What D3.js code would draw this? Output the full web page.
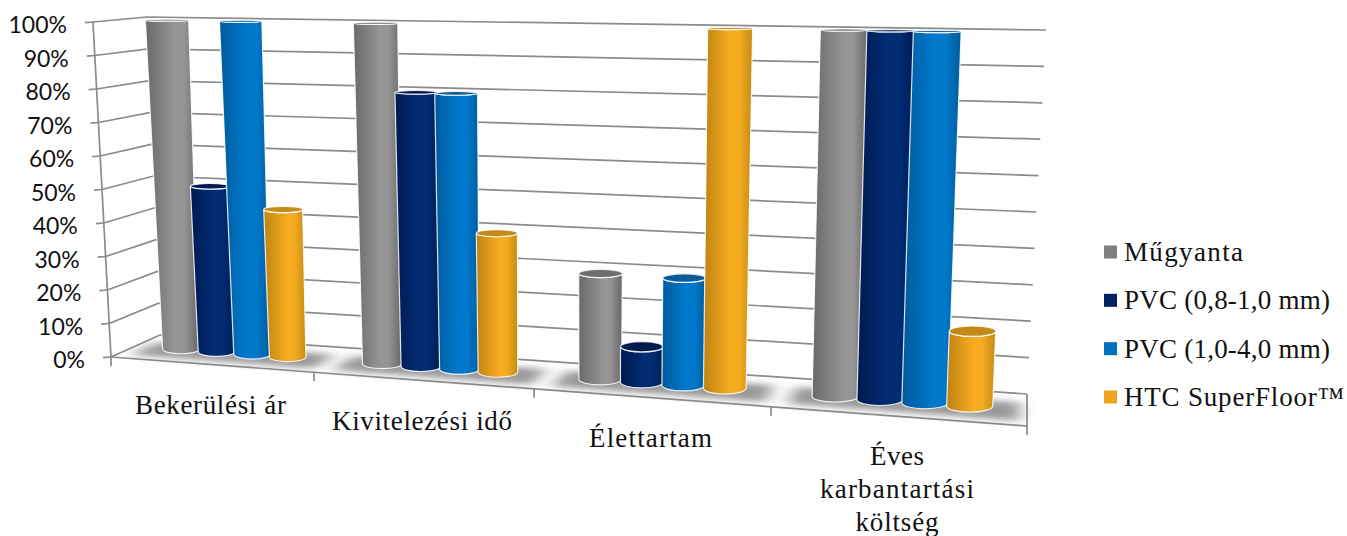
<!DOCTYPE html>
<html>
<head>
<meta charset="utf-8">
<title>Padlóburkolatok összehasonlítása</title>
<script src="https://d3js.org/d3.v7.min.js"></script>
<style>
  html, body { margin: 0; padding: 0; background: #fff; overflow: hidden; }
  svg { display: block; }
  .tick-label { font-family: Lato, "Open Sans", sans-serif; font-size: 23px; fill: #111; }
  .serif { font-family: "Liberation Serif", serif; font-size: 27px; fill: #111; }
</style>
</head>
<body>
<div id="chart"></div>
<script>
const categories = ["Bekerülési ár", "Kivitelezési idő", "Élettartam", "Éves karbantartási költség"];
const seriesNames = ["Műgyanta", "PVC (0,8-1,0 mm)", "PVC (1,0-4,0 mm)", "HTC SuperFloor™"];
const muGyanta = [1.0, 1.0, 0.3, 1.0];
const pvcThin = [0.5, 0.8, 0.1, 1.0];
const pvcThick = [1.0, 0.8, 0.3, 1.0];
const superFloor = [0.44, 0.4, 1.0, 0.2];
const seriesValues = [muGyanta, pvcThin, pvcThick, superFloor];

const W = 1347, H = 536;
const gridColor = "#8b8b8b";

// one colour set per series: edge, highlight, other edge, cap
const shades = [
  ["#696969", "#959595", "#666666", "#6e6e6e"],
  ["#001a52", "#002c74", "#001c56", "#001a50"],
  ["#005a9c", "#0079cc", "#005c9c", "#0a5c98"],
  ["#bf8312", "#f6ac20", "#c48a14", "#c48a18"]
];
const legendColors = ["#7f7f7f", "#002060", "#0070c0", "#eca420"];

// the chart box as it shows on the picture
const frontBottom = [[111, 357], [1027, 426]];
const backBottom = [[160, 335], [1027, 394]];
const frontTop = [[93, 22], [1040, 36]];
const backTop = [[147, 17], [1046, 30]];

// perspective squeezes the left categories, so the x scale is piecewise
const xFront = d3.scaleLinear().domain([0, 1, 2, 3, 4]).range([111, 314, 534, 771, 1027]);
const frac = d3.scaleLinear().domain([111, 1027]).range([0, 1]);
const y = d3.scaleLinear().domain([0, 1]).range([0, 1]);

function onEdge(edge, t) {
  return [edge[0][0] + (edge[1][0] - edge[0][0]) * t, edge[0][1] + (edge[1][1] - edge[0][1]) * t];
}

// u = category position, v = value, d = depth (0 front, 1 back)
function project(u, v, d) {
  const t = frac(xFront(u));
  const bottom = d3.interpolate(onEdge(frontBottom, t), onEdge(backBottom, t))(d);
  const top = d3.interpolate(onEdge(frontTop, t), onEdge(backTop, t))(d);
  return d3.interpolate(bottom, top)(y(v));
}

const svg = d3.select("#chart").append("svg").attr("width", W).attr("height", H);
const defs = svg.append("defs");

shades.forEach((s, i) => {
  const g = defs.append("linearGradient").attr("id", "cyl" + i);
  [[0, s[0]], [0.55, s[1]], [0.72, s[1]], [1, s[2]]].forEach(st => {
    g.append("stop").attr("offset", st[0]).attr("stop-color", st[1]);
  });
});
defs.append("filter").attr("id", "soft").attr("x", "-20%").attr("y", "-80%").attr("width", "140%").attr("height", "260%")
  .append("feGaussianBlur").attr("stdDeviation", "8 3");

const line = d3.line();
const pct = d3.format(".0%");

// walls
const ticks = y.ticks(10);
const grid = svg.append("g").attr("fill", "none").attr("stroke", gridColor).attr("stroke-width", 1.7);
ticks.forEach(v => {
  grid.append("path").attr("d", line([project(0, v, 0), project(0, v, 1), project(4, v, 1)]));
});

// floor edges
grid.append("path").attr("d", line([project(0, 0, 0), project(4, 0, 0), project(4, 0, 1)]));
grid.append("path").attr("d", line([project(0, 0, 0), project(0, 1, 0)]));

// value ticks
ticks.forEach(v => {
  const p = project(0, v, 0);
  grid.append("path").attr("d", line([[p[0] - 8, p[1] + 0.6], p]));
  svg.append("text").attr("class", "tick-label")
    .attr("x", p[0] - 26).attr("y", p[1] + 3).attr("dy", "0.35em")
    .attr("text-anchor", "end").text(pct(v));
});

// category ticks
xFront.domain().forEach(u => {
  const p = project(u, 0, 0);
  grid.append("path").attr("d", line([p, [p[0], p[1] + 9]]));
});

// floor shadow under each group
categories.forEach((c, i) => {
  const corners = [[i + 0.06, 0.72], [i + 0.97, 0.72], [i + 0.97, 0.14], [i + 0.06, 0.14]]
    .map(q => project(q[0], 0, q[1]));
  svg.append("path").attr("d", line(corners) + "Z")
    .attr("fill", "#808080").attr("opacity", 0.8).attr("filter", "url(#soft)");
});

// cylinders, the tall ones flare towards the top on the left of the chart
const barStep = 0.18, barWidth = 0.185, barDepth = 0.5, depthR = 0.2;
const bars = svg.append("g");
categories.forEach((c, ci) => {
  seriesValues.forEach((vals, si) => {
    const u = ci + 0.5 + (si - 1.5) * barStep;
    const v = vals[ci];
    const t0 = frac(xFront(u));
    const ends = [0, v].map(level => {
      const half = barWidth / 2 * (1 + 0.16 * level * (1 - t0) * (1 - t0));
      const l = project(u - half, level, barDepth);
      const r = project(u + half, level, barDepth);
      const m = project(u, level, barDepth);
      const near = project(u, level, barDepth - depthR);
      const far = project(u, level, barDepth + depthR);
      return { lx: l[0], rx: r[0], cx: m[0], cy: m[1], rw: (r[0] - l[0]) / 2, ry: Math.abs(near[1] - far[1]) / 2 };
    });
    const b = ends[0], t = ends[1];
    bars.append("path")
      .attr("d", `M${b.lx},${b.cy} L${t.lx},${t.cy} A${t.rw},${t.ry} 0 0 0 ${t.rx},${t.cy} L${b.rx},${b.cy} A${b.rw},${b.ry} 0 0 1 ${b.lx},${b.cy} Z`)
      .attr("fill", `url(#cyl${si})`)
      .attr("stroke", "#fff").attr("stroke-opacity", 0.85).attr("stroke-width", 1.2);
    bars.append("ellipse")
      .attr("cx", t.cx).attr("cy", t.cy).attr("rx", t.rw).attr("ry", t.ry)
      .attr("fill", shades[si][3])
      .attr("stroke", "#fff").attr("stroke-opacity", 0.85).attr("stroke-width", 1.2);
  });
});

// category labels, the last one wraps over three lines; widths follow the wider font of the original
const labelLines = [["Bekerülési ár"], ["Kivitelezési idő"], ["Élettartam"], ["Éves", "karbantartási", "költség"]];
const labelWidths = [[151], [180], [123], [54, 154, 83]];
labelLines.forEach((lines, i) => {
  const p = project(i + 0.5, 0, 0);
  lines.forEach((txt, k) => {
    svg.append("text").attr("class", "serif")
      .attr("x", p[0] - 2).attr("y", p[1] + 49 + k * 33)
      .attr("text-anchor", "middle")
      .attr("textLength", labelWidths[i][k]).attr("lengthAdjust", "spacing").text(txt);
  });
});

// legend
const legendY = d3.scalePoint().domain(seriesNames).range([252, 397]);
const legendWidths = [119, 206, 206, 220];
seriesNames.forEach((name, i) => {
  const cy = legendY(name);
  svg.append("rect").attr("x", 1104).attr("y", cy - 6.5).attr("width", 13).attr("height", 13).attr("fill", legendColors[i]);
  svg.append("text").attr("class", "serif").attr("x", 1124).attr("y", cy).attr("dy", "0.33em")
    .attr("textLength", legendWidths[i]).attr("lengthAdjust", "spacing").text(name);
});
</script>
</body>
</html>
